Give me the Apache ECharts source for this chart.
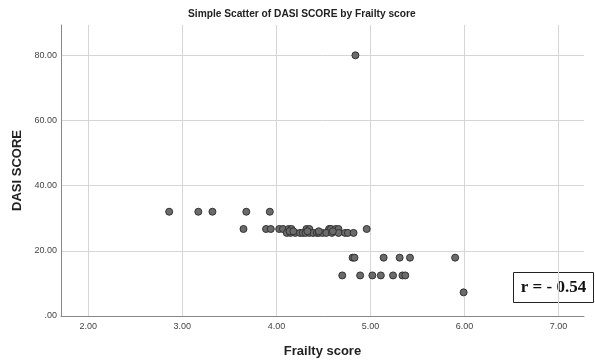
<!DOCTYPE html>
<html>
<head>
<meta charset="utf-8">
<script src="https://cdn.jsdelivr.net/npm/echarts@6/dist/echarts.min.js"></script>
<style>
html,body{margin:0;padding:0;background:#fff;}
#chart{width:595px;height:363px;}
</style>
</head>
<body>
<div id="chart"></div>
<script>
// Frailty score (x) and DASI SCORE (y)
const frailty = [
  4.84,
  2.86, 3.17, 3.32, 3.68, 3.93,
  3.65, 3.89, 3.94, 4.03, 4.07, 4.13, 4.16, 4.32, 4.35, 4.56, 4.58, 4.63, 4.66, 4.96,
  4.11, 4.15, 4.20, 4.25, 4.28, 4.31, 4.35, 4.39, 4.43, 4.45, 4.49, 4.53, 4.59, 4.66, 4.73, 4.76, 4.82,
  4.14, 4.18, 4.33, 4.45, 4.60,
  4.81, 4.83, 5.14, 5.31, 5.42, 5.90,
  4.70, 4.89, 5.02, 5.11, 5.24, 5.34, 5.37,
  5.99
];
const dasi = [
  80.0,
  32.0, 32.0, 32.0, 32.0, 32.0,
  26.7, 26.7, 26.7, 26.7, 26.7, 26.7, 26.7, 26.7, 26.7, 26.7, 26.7, 26.7, 26.7, 26.7,
  25.5, 25.5, 25.5, 25.5, 25.5, 25.5, 25.5, 25.5, 25.5, 25.5, 25.5, 25.5, 25.5, 25.5, 25.5, 25.5, 25.5,
  26.0, 26.0, 26.0, 26.0, 26.0,
  17.9, 17.9, 17.9, 17.9, 17.9, 17.9,
  12.45, 12.45, 12.45, 12.45, 12.45, 12.45, 12.45,
  7.25
];
const xTicks = [2, 3, 4, 5, 6, 7];
const yTicks = [0, 20, 40, 60, 80];
const titleText = 'Simple Scatter of DASI SCORE by Frailty score';
const xName = 'Frailty score';
const yName = 'DASI SCORE';
const rText = 'r = - 0.54';

const points = frailty.map((x, i) => [x, dasi[i]]);
const fmt = v => (v === 0 ? '.00' : v.toFixed(2));

const chart = echarts.init(document.getElementById('chart'), null, {renderer: 'canvas'});
chart.setOption({
  animation: false,
  backgroundColor: '#ffffff',
  title: {
    text: titleText,
    left: 183, top: 4,
    textStyle: {fontFamily: 'Liberation Sans, Arial, sans-serif', fontSize: 10.2, fontWeight: 'bold', color: '#222'}
  },
  grid: {left: 61, right: 11, top: 25, bottom: 46, containLabel: false},
  xAxis: {
    type: 'value', min: 1.71, max: 7.27,
    name: xName, nameLocation: 'middle', nameGap: 29,
    nameTextStyle: {fontFamily: 'Liberation Sans, Arial, sans-serif', fontSize: 13, fontWeight: 'bold', color: '#222'},
    axisLine: {show: true, lineStyle: {color: '#888', width: 1}},
    axisTick: {show: false, customValues: xTicks},
    axisLabel: {customValues: xTicks, formatter: fmt, fontFamily: 'Liberation Sans, Arial, sans-serif', fontSize: 9, color: '#444', margin: 6},
    splitLine: {show: true, lineStyle: {color: '#d6d6d6', width: 1}}
  },
  yAxis: {
    type: 'value', min: 0, max: 89.3,
    name: yName, nameLocation: 'middle', nameGap: 37, nameRotate: 90,
    nameTextStyle: {fontFamily: 'Liberation Sans, Arial, sans-serif', fontSize: 13, fontWeight: 'bold', color: '#222'},
    axisLine: {show: true, lineStyle: {color: '#888', width: 1}},
    axisTick: {show: false, customValues: yTicks},
    axisLabel: {customValues: yTicks, formatter: fmt, fontFamily: 'Liberation Sans, Arial, sans-serif', fontSize: 9, color: '#444', margin: 4},
    splitLine: {show: true, lineStyle: {color: '#d6d6d6', width: 1}}
  },
  series: [{
    type: 'scatter',
    data: points,
    symbol: 'circle',
    symbolSize: 7,
    itemStyle: {color: '#6b6b6b', borderColor: '#333', borderWidth: 1, opacity: 1}
  }],
  graphic: [{
    type: 'group', left: 513, top: 272,
    children: [
      {type: 'rect', shape: {x: 0, y: 0, width: 80, height: 30}, style: {fill: '#fff', stroke: '#222', lineWidth: 1}},
      {type: 'text', x: 40, y: 15, style: {text: rText, fill: '#111', font: 'bold 17px "Liberation Serif", "Times New Roman", serif', align: 'center', verticalAlign: 'middle'}}
    ]
  }]
});
</script>
</body>
</html>
